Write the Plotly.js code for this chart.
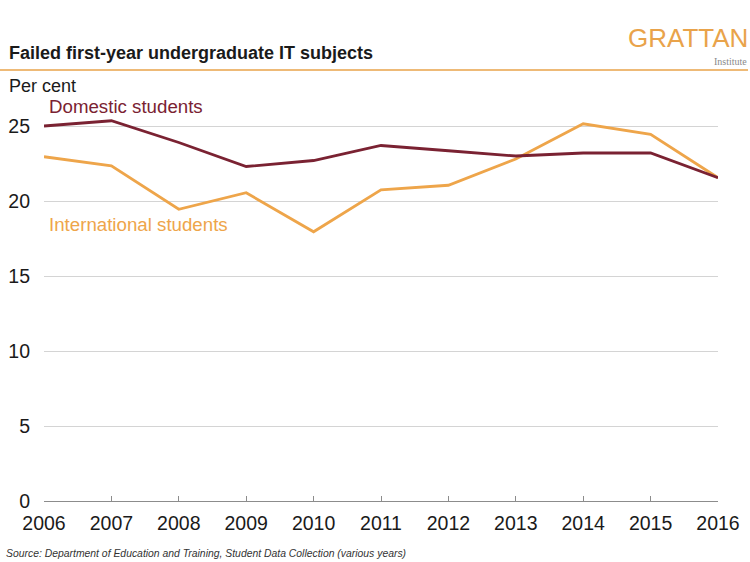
<!DOCTYPE html>
<html>
<head>
<meta charset="utf-8">
<script src="https://cdn.plot.ly/plotly-3.0.1.min.js"></script>
<style>
html,body{margin:0;padding:0;background:#fff;}
#chart{width:750px;height:562px;}
</style>
</head>
<body>
<div id="chart"></div>
<script>
const years = [2006, 2007, 2008, 2009, 2010, 2011, 2012, 2013, 2014, 2015, 2016];
const domestic = [25.0, 25.35, 23.9, 22.3, 22.7, 23.7, 23.35, 23.0, 23.2, 23.2, 21.55];
const international = [22.95, 22.35, 19.45, 20.55, 17.95, 20.75, 21.05, 22.8, 25.15, 24.45, 21.55];
const yTicks = [0, 5, 10, 15, 20, 25];

const FONT = 'Liberation Sans, Arial, sans-serif';
const MAROON = '#7a2232';
const ORANGE = '#eea54a';

const traces = [
  {x: years, y: international, type: 'scatter', mode: 'lines', name: 'International students',
   line: {color: ORANGE, width: 2.8}, hoverinfo: 'skip'},
  {x: years, y: domestic, type: 'scatter', mode: 'lines', name: 'Domestic students',
   line: {color: MAROON, width: 2.8}, hoverinfo: 'skip'}
];

const layout = {
  width: 750, height: 562,
  margin: {l: 44, r: 32, t: 96, b: 61},
  paper_bgcolor: '#fff', plot_bgcolor: '#fff',
  showlegend: false,
  font: {family: FONT, color: '#1a1a1a'},
  xaxis: {
    range: [2006, 2016], tickvals: years, ticktext: years.map(String),
    showgrid: false, zeroline: false,
    showline: true, linecolor: '#8c8c8c', linewidth: 1,
    ticks: 'inside', ticklen: 5, tickcolor: '#8c8c8c', tickwidth: 1,
    tickfont: {size: 19.5, color: '#1a1a1a', family: FONT},
    ticklabelstandoff: 5,
    fixedrange: true
  },
  yaxis: {
    range: [0, 27], tickvals: yTicks, ticktext: yTicks.map(String),
    showgrid: true, gridcolor: '#d4d4d4', gridwidth: 1,
    zeroline: false, showline: false, ticks: '',
    tickfont: {size: 19.5, color: '#1a1a1a', family: FONT},
    ticklabelstandoff: 13,
    fixedrange: true
  },
  shapes: [
    {type: 'line', xref: 'paper', yref: 'paper', x0: -44/674, x1: (748-44)/674, y0: (562-61-70)/405, y1: (562-61-70)/405,
     line: {color: '#e9a34a', width: 1.5}}
  ],
  annotations: [
    {xref: 'paper', yref: 'paper', x: -37/674, y: (501-53)/405, xanchor: 'left', yanchor: 'middle',
     text: '<b>Failed first-year undergraduate IT subjects</b>', showarrow: false,
     font: {size: 18, color: '#1a1a1a', family: FONT}},
    {xref: 'paper', yref: 'paper', x: -37/674, y: (501-86)/405, xanchor: 'left', yanchor: 'middle',
     text: 'Per cent', showarrow: false,
     font: {size: 18, color: '#1a1a1a', family: FONT}},
    {xref: 'paper', yref: 'paper', x: (750-44)/674, y: (501-38)/405, xanchor: 'right', yanchor: 'middle',
     text: 'GRATTAN', showarrow: false,
     font: {size: 26, color: '#e9a34a', family: FONT}},
    {xref: 'paper', yref: 'paper', x: (749-44)/674, y: (501-61)/405, xanchor: 'right', yanchor: 'middle',
     text: 'Institute', showarrow: false,
     font: {size: 10, color: '#8a8a8a', family: 'Liberation Serif, serif'}},
    {xref: 'x', yref: 'y', x: 2006.04, y: 26.3, xanchor: 'left', yanchor: 'middle',
     text: 'Domestic students', showarrow: false,
     font: {size: 18.7, color: MAROON, family: FONT}},
    {xref: 'x', yref: 'y', x: 2006.04, y: 18.45, xanchor: 'left', yanchor: 'middle',
     text: 'International students', showarrow: false,
     font: {size: 18.7, color: ORANGE, family: FONT}},
    {xref: 'paper', yref: 'paper', x: -40/674, y: (501-553)/405, xanchor: 'left', yanchor: 'middle',
     text: '<i>Source: Department of Education and Training, Student Data Collection (various years)</i>', showarrow: false,
     font: {size: 10.4, color: '#333', family: FONT}}
  ]
};

Plotly.newPlot('chart', traces, layout, {displayModeBar: false, staticPlot: true});
</script>
</body>
</html>
